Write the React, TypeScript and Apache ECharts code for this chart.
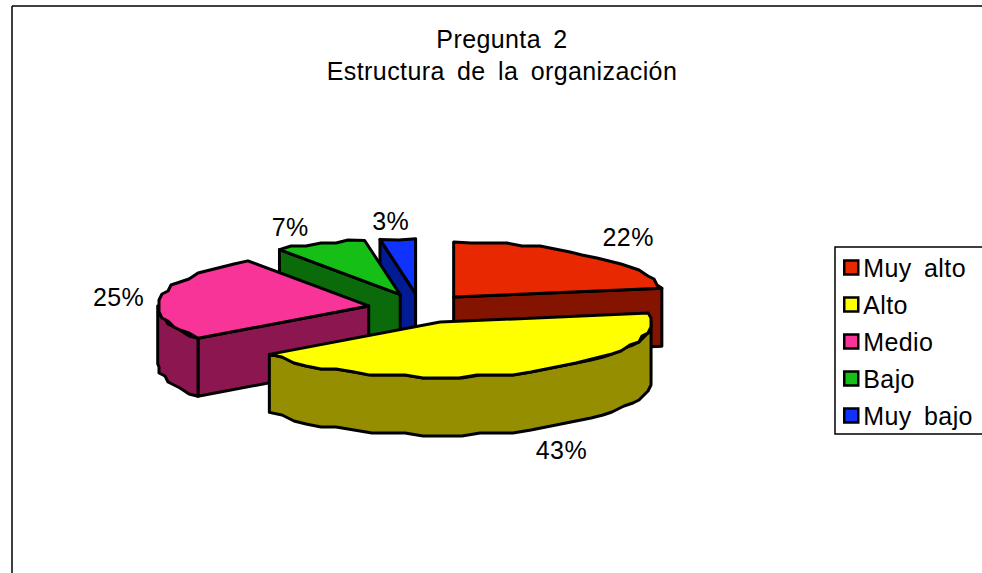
import React, { useEffect, useRef } from "react";
import * as echarts from "echarts";

const categories = ["Muy alto", "Alto", "Medio", "Bajo", "Muy bajo"];
const shares = [22.4, 42.6, 25.3, 7.0, 2.7];
const tickLabels = ["22%", "43%", "25%", "7%", "3%"];
const topColors = ["#E72800", "#FFFF00", "#F93498", "#15BF15", "#0F32FF"];
const sideColors = ["#841400", "#948E00", "#8C1650", "#0B6B0B", "#001B94"];
const titleLines = ["Pregunta 2", "Estructura de la organización"];
const drawOrder = [4, 3, 0, 2, 1];

const FONT = "'Liberation Sans', Arial, sans-serif";
const CX = 420, CY = 308.4, RX = 211, RY = 55, DEPTH = 58, EX = 52, EY = 14.8;
const SNAP = 3;
const labelNudge = [[38, -18], [40, 19], [-42, 0], [-30, -17], [-7, -18]];
const rad = (d: number) => (d * Math.PI) / 180;
const total = shares.reduce((a, b) => a + b, 0);

// The reference rim is a slightly stair-stepped outline: inner samples snap to a small grid.
function rimPoints(ax: number, ay: number, from: number, to: number, dy = 0) {
  const pts: number[][] = [];
  const n = Math.max(1, Math.ceil(Math.abs(to - from) / 5));
  for (let i = 0; i <= n; i++) {
    const t = rad(from + ((to - from) * i) / n);
    let x = ax + RX * Math.sin(t);
    let y = ay - RY * Math.cos(t);
    if (i > 0 && i < n) {
      x = Math.round(x / SNAP) * SNAP;
      y = Math.round(y / SNAP) * SNAP;
    }
    pts.push([x, y + dy]);
  }
  return pts;
}

function makeRenderItem(idx: number) {
  return (_p: any, api: any) => {
    const v = api.value(0);
    const before = shares.slice(0, idx).reduce((a, b) => a + b, 0);
    const a = (before / total) * 360;
    const b = a + (v / total) * 360;
    const mid = rad((a + b) / 2);
    const ax = CX + EX * Math.sin(mid);
    const ay = CY - EY * Math.cos(mid);
    const stroke = { stroke: "#000", lineWidth: 3, lineJoin: "round" };
    const side = { fill: sideColors[idx], ...stroke };
    const children: any[] = [];
    const radial = (ang: number) => {
      const p = rimPoints(ax, ay, ang, ang)[0];
      children.push({
        type: "polygon",
        shape: { points: [[ax, ay], p, [p[0], p[1] + DEPTH], [ax, ay + DEPTH]] },
        style: side,
      });
    };
    if (Math.sin(rad(a)) < 0) radial(a);
    if (Math.sin(rad(b)) > 0) radial(b);
    const wa = Math.max(a, 90), wb = Math.min(b, 270);
    if (wb > wa) {
      children.push({
        type: "polygon",
        shape: {
          points: [...rimPoints(ax, ay, wa, wb), ...rimPoints(ax, ay, wb, wa, DEPTH)],
        },
        style: side,
      });
    }
    children.push({
      type: "polygon",
      shape: { points: [[ax, ay], ...rimPoints(ax, ay, a, b)] },
      style: { fill: topColors[idx], ...stroke },
    });
    const lift = Math.cos(mid) < 0 ? DEPTH : 0;
    children.push({
      type: "text",
      z2: 100,
      style: {
        text: tickLabels[idx],
        x: ax + RX * Math.sin(mid) + labelNudge[idx][0],
        y: ay - RY * Math.cos(mid) + lift + labelNudge[idx][1],
        fill: "#000",
        font: `25px ${FONT}`,
        align: "center",
        verticalAlign: "middle",
      },
    });
    return { type: "group", children };
  };
}

export default function App() {
  const ref = useRef<HTMLDivElement>(null);
  useEffect(() => {
    const chart = echarts.init(ref.current!, null, { renderer: "svg" });
    chart.setOption({
      animation: false,
      backgroundColor: "#fff",
      title: {
        text: titleLines.join("\n"),
        left: 497,
        top: 18,
        textAlign: "center",
        textStyle: { fontFamily: FONT, fontWeight: "normal", fontSize: 25, lineHeight: 32, color: "#000" },
      },
      legend: {
        data: categories,
        orient: "vertical",
        left: 835,
        top: 247,
        padding: [8, 50, 6, 8],
        itemWidth: 14,
        itemHeight: 14,
        itemGap: 12,
        itemTextGap: 11.5,
        icon: "rect",
        selectedMode: false,
        backgroundColor: "#fff",
        borderColor: "#000",
        borderWidth: 1.5,
        itemStyle: { borderColor: "#000", borderWidth: 2.5 },
        textStyle: { fontFamily: FONT, fontSize: 25, color: "#000" },
      },
      graphic: [
        { type: "line", shape: { x1: 12, y1: 6, x2: 982, y2: 6 }, style: { stroke: "#000", lineWidth: 1.5 } },
        { type: "line", shape: { x1: 12, y1: 6, x2: 12, y2: 573 }, style: { stroke: "#000", lineWidth: 1.5 } },
      ],
      series: drawOrder.map((i) => ({
        type: "custom",
        name: categories[i],
        coordinateSystem: "none",
        itemStyle: { color: topColors[i] },
        data: [[shares[i]]],
        renderItem: makeRenderItem(i),
      })),
    });
    return () => chart.dispose();
  }, []);
  return (
    <div
      ref={ref}
      style={{ position: "absolute", left: 0, top: 0, width: 982, height: 573, letterSpacing: "0.4px", wordSpacing: "5px" }}
    />
  );
}
